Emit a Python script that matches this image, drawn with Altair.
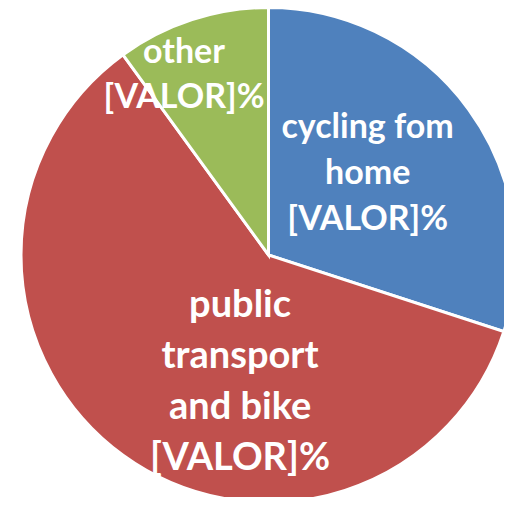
import math
import altair as alt
import pandas as pd

categories = ["cycling fom home", "public transport and bike", "other"]
values = [30, 60, 10]
label_lines = [
    ["cycling fom", "home", "[VALOR]%"],
    ["public", "transport", "and bike", "[VALOR]%"],
    ["other", "[VALOR]%"],
]
colors = ["#4F81BD", "#C0504D", "#9BBB59"]

df = pd.DataFrame({
    "category": categories,
    "value": values,
    "order": list(range(len(categories))),
    "label": label_lines,
})

CX, CY, R = 260.5, 247, 247.5
theta_scale = alt.Scale(domain=[0, sum(values)], range=[0, 2 * math.pi])
color_scale = alt.Scale(domain=categories, range=colors)

base = (
    alt.Chart(df)
    .transform_window(cum="sum(value)", sort=[{"field": "order"}])
    .transform_calculate(start="datum.cum - datum.value", mid="datum.cum - datum.value / 2")
)

arcs = base.mark_arc(radius=R, stroke="white", strokeWidth=3).encode(
    theta=alt.Theta("start:Q", scale=theta_scale),
    theta2="cum:Q",
    color=alt.Color("category:N", scale=color_scale, legend=None),
    x=alt.value(CX),
    y=alt.value(CY),
)


def label_layer(cat, radius, dx, dy, size, lh):
    return (
        base.transform_filter(alt.datum.category == cat)
        .mark_text(
            radius=radius, dx=dx, dy=dy, fontSize=size, lineHeight=lh,
            font="Lato", fontWeight="bold", color="white",
            align="center", baseline="middle",
        )
        .encode(
            theta=alt.Theta("mid:Q", scale=theta_scale),
            text="label",
            x=alt.value(CX),
            y=alt.value(CY),
        )
    )


chart = (
    alt.layer(
        arcs,
        label_layer(categories[0], 125, -2, -54, 34, 46),
        label_layer(categories[1], 130, 48, -54, 38, 51),
        label_layer(categories[2], 199, -23, -13, 34, 45),
    )
    .properties(width=496, height=489, padding=0, autosize="none")
    .configure_view(stroke=None)
)

chart.save("out.html", embed_options={"renderer": "svg", "actions": False})
